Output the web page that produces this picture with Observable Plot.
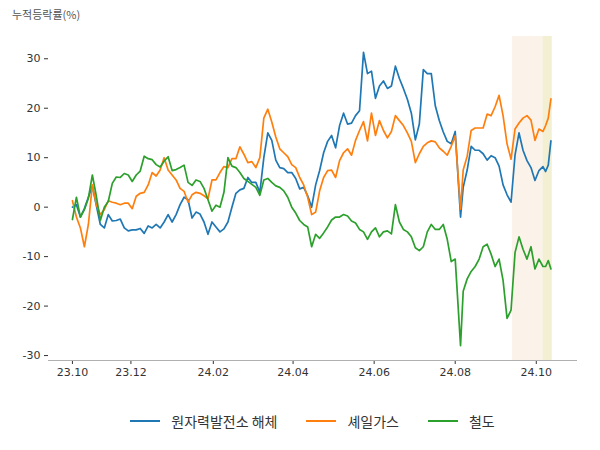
<!DOCTYPE html>
<html><head><meta charset="utf-8">
<script src="https://cdn.jsdelivr.net/npm/d3@7"></script>
<script src="https://cdn.jsdelivr.net/npm/@observablehq/plot@0.6"></script>
<style>
body{margin:0;background:#fff;}
#wrap{width:600px;height:450px;position:relative;font-family:"Noto Sans CJK KR",sans-serif;background:#fff;}
#title{height:30px;line-height:28px;padding-left:12px;font-size:11px;color:#555;}
#chart svg{display:block;}
#legend{height:42px;display:flex;justify-content:center;align-items:center;padding-left:48px;padding-right:23px;box-sizing:border-box;font-size:14px;color:#333;gap:29px;}
.item{display:flex;align-items:center;}
.sw{width:30px;height:2px;margin-right:11px;}
</style></head><body>
<div id="wrap"><div id="title">누적등락률(%)</div><div id="chart"></div><div id="legend"></div></div>
<script>
const dates = [
"2023-10-18","2023-10-21","2023-10-24","2023-10-27","2023-10-30",
"2023-11-02","2023-11-05","2023-11-08","2023-11-11","2023-11-14","2023-11-17","2023-11-20","2023-11-23","2023-11-26","2023-11-29",
"2023-12-02","2023-12-05","2023-12-08","2023-12-11","2023-12-14","2023-12-17","2023-12-20","2023-12-23","2023-12-26","2023-12-29",
"2024-01-01","2024-01-04","2024-01-07","2024-01-10","2024-01-13","2024-01-16","2024-01-19","2024-01-22","2024-01-25","2024-01-28","2024-01-31",
"2024-02-03","2024-02-06","2024-02-09","2024-02-12","2024-02-15","2024-02-18","2024-02-21","2024-02-24","2024-02-27",
"2024-03-01","2024-03-04","2024-03-07","2024-03-10","2024-03-13","2024-03-16","2024-03-19","2024-03-22","2024-03-25","2024-03-28","2024-03-31",
"2024-04-03","2024-04-06","2024-04-09","2024-04-12","2024-04-15","2024-04-18","2024-04-21","2024-04-24","2024-04-27","2024-04-30",
"2024-05-03","2024-05-06","2024-05-09","2024-05-12","2024-05-15","2024-05-18","2024-05-21","2024-05-24","2024-05-27","2024-05-30",
"2024-06-02","2024-06-05","2024-06-08","2024-06-11","2024-06-14","2024-06-17","2024-06-20","2024-06-23","2024-06-26","2024-06-29",
"2024-07-02","2024-07-05","2024-07-08","2024-07-11","2024-07-14","2024-07-17","2024-07-20","2024-07-23","2024-07-26","2024-07-29",
"2024-08-01","2024-08-05","2024-08-07","2024-08-10","2024-08-13","2024-08-16","2024-08-19","2024-08-22","2024-08-25","2024-08-28","2024-08-31",
"2024-09-03","2024-09-06","2024-09-09","2024-09-12","2024-09-15","2024-09-18","2024-09-21","2024-09-24","2024-09-27","2024-09-30",
"2024-10-03","2024-10-06","2024-10-08","2024-10-10","2024-10-12"
];
const nuclear = [
0, 0.5, -2, -0.3, 2,
4.2, 0.3, -3.5, -4.2, -1.5, -2.8, -2.7, -2.4, -4.2, -4.8,
-4.6, -4.6, -4.3, -5.3, -3.8, -4.2, -3.5, -4.2, -3, -1.5,
-3, -1.5, 0.5, 2, 1.5, -2.2, -1, -1.4, -3, -5.5, -3,
-4, -5, -4.4, -3, 0, 2.8, 3.5, 3.8, 6,
5, 5, 3, 10, 15, 13.5, 9.5, 8, 7.8, 7, 7,
5.8, 3.7, 4, 2.3, 0, 4.5, 7.4, 11, 13.3, 14.5,
12, 16.5, 19, 16.8, 17, 18.5, 19.5, 31.3, 27, 27.5,
22, 24.5, 25.5, 24, 24.5, 28.5, 26, 24, 21.8, 19,
13.6, 16.8, 27.8, 27, 27, 20.5, 17.5, 15.2, 13.3, 12.8,
15.3, -2, 4, 7.5, 12.3, 11.5, 11.5, 10.8, 9.5, 10.4, 10,
8.3, 4.5, 2.5, 1, 10.5, 15, 11.5, 9.4, 8, 5.4,
7.4, 8.2, 7.2, 8.5, 13.4
];
const shale = [
1.3, -2, -4.2, -8, -3.5,
4.5, 0.5, -1.5, -0.5, 1.3, 1, 0.8, 0.5, 0.8, 0.8,
-0.3, 2.2, 2.8, 3, 4.5, 7, 6.3, 7.5, 10, 7.5,
6.5, 5.5, 3.8, 3.2, 1, 2.5, 3, 2.8, 2.3, 1.7, 5.5,
5.5, 7, 8.2, 8, 9.8, 9.8, 12.2, 10.7, 9,
9.2, 8, 10, 18, 19.8, 17.2, 14.2, 11.8, 11, 10.2, 8.6,
8, 6, 4.5, 2, -1.5, -1, 3.3, 6, 7.4, 7.5,
6, 9.4, 11, 11.8, 10.5, 13.5, 15.5, 17.3, 13.4, 19,
14.5, 17.5, 15.5, 14, 15.3, 18.5, 17.5, 16.5, 15, 13.3,
9, 10.8, 12.3, 13, 13.4, 13.2, 12, 11.3, 10.5, 12.3,
14.4, -0.4, 7.5, 10.3, 15.5, 16, 16, 16, 18.8, 18.5, 20.3,
22.6, 18.5, 12.8, 9.7, 15.8, 17, 18, 18.5, 17.6, 13.5,
15.8, 15.3, 16.5, 18, 21.9
];
const railway = [
-2.5, 2, -2, -0.5, 1.8,
6.5, 2.2, -2.7, 0, 1.2, 4.8, 6.1, 6, 6.8, 6.5,
5.2, 6.5, 7.3, 10.3, 9.8, 9.6, 8.6, 8.1, 9.3, 10.2,
7.4, 7.6, 8, 8.5, 5, 4.4, 5.5, 5.2, 3.8, 1.5, -0.8,
0.4, 0, 3, 10, 8.3, 8, 7, 5.8, 5.2,
4.6, 4, 2.4, 5.5, 5.8, 5, 4.3, 4, 3.3, 2, 0,
-1.2, -2.7, -3.5, -4, -8, -5.5, -6.3, -5.2, -4, -2.6,
-2, -2, -1.5, -1.8, -2.8, -3.2, -4.5, -5, -6.5, -5,
-4.2, -6, -5, -4.8, -5.4, 0.5, -3, -4.5, -5, -6,
-8.2, -8.8, -8, -5, -3.5, -4.5, -4.5, -3.5, -6.5, -11,
-10.5, -28, -17, -14.5, -13, -12, -10.5, -8, -7.5, -9.5, -12,
-10.5, -14.8, -22.5, -20.8, -9.2, -6, -8.5, -10.5, -8, -12.5,
-10.5, -12, -12, -10.8, -12.5
];
const seriesNames = ["원자력발전소 해체", "셰일가스", "철도"];
const seriesColors = ["#1f77b4", "#ff7f0e", "#2ca02c"];
const xTicks = ["2023-10-18","2023-12-01","2024-02-01","2024-04-01","2024-06-01","2024-08-01","2024-10-01"];
const yTicks = [-30, -20, -10, 0, 10, 20, 30];
const spanStarts = ["2024-09-13", "2024-10-06"];
const spanEnds = ["2024-10-06", "2024-10-13"];
const spanColors = ["#fbf2ea", "#f3efd2"];
const xDomain = ["2023-09-30", "2024-11-01"];
const yDomain = [-31, 34.5];

const parse = s => new Date(s + "T00:00:00Z");
const values = [nuclear, shale, railway];
const lineMarks = values.map((arr, k) =>
  Plot.line(arr.map((v, i) => ({date: parse(dates[i]), value: v})), {
    x: "date", y: "value", stroke: seriesColors[k], strokeWidth: 1.7,
    strokeLinejoin: "round", strokeLinecap: "round"
  })
);
const spanMarks = spanStarts.map((s, i) =>
  Plot.rect([{x1: parse(s), x2: parse(spanEnds[i])}], {x1: "x1", x2: "x2", fill: spanColors[i]})
);

const chart = Plot.plot({
  width: 600, height: 370,
  marginTop: 6, marginBottom: 40, marginLeft: 48, marginRight: 23,
  style: {fontFamily: "'DejaVu Sans', sans-serif", fontSize: "11px", color: "#333", background: "#fff"},
  x: {type: "utc", domain: xDomain.map(parse), ticks: xTicks.map(parse),
      tickFormat: d3.utcFormat("%y.%m"), tickSize: 4, tickPadding: 4, label: null},
  y: {domain: yDomain, ticks: yTicks, tickFormat: d => d < 0 ? "-" + Math.abs(d) : String(d),
      tickSize: 4, tickPadding: 4, label: null},
  marks: [
    ...spanMarks,
    Plot.ruleY([yDomain[0]], {stroke: "#b0b0b0", strokeWidth: 1}),
    ...lineMarks
  ]
});
document.getElementById("chart").appendChild(chart);

const legend = document.getElementById("legend");
seriesNames.forEach((name, k) => {
  const item = document.createElement("div");
  item.className = "item";
  const sw = document.createElement("div");
  sw.className = "sw";
  sw.style.background = seriesColors[k];
  const t = document.createElement("span");
  t.textContent = name;
  item.appendChild(sw); item.appendChild(t);
  legend.appendChild(item);
});
</script>
</body></html>
